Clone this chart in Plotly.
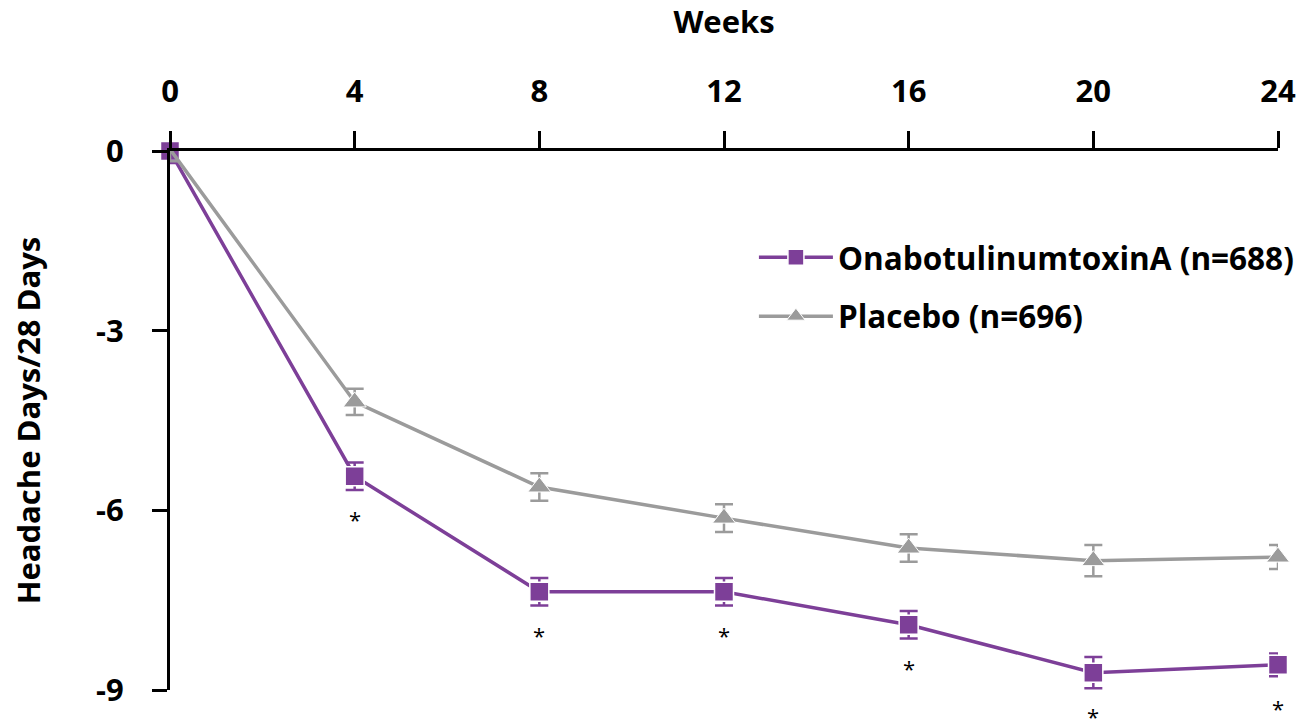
import plotly.graph_objects as go

weeks = [0, 4, 8, 12, 16, 20, 24]
onabot = [0.0, -5.43, -7.36, -7.36, -7.91, -8.71, -8.58]
onabot_err = [0.2, 0.23, 0.23, 0.23, 0.23, 0.26, 0.19]
placebo = [0.03, -4.19, -5.61, -6.13, -6.63, -6.84, -6.78]
placebo_err = [0.2, 0.22, 0.23, 0.23, 0.23, 0.26, 0.2]
sig_weeks = [4, 8, 12, 16, 20, 24]
y_ticks = [0, -3, -6, -9]
x_ticks = [0, 4, 8, 12, 16, 20, 24]

PURPLE = "#7D3F98"
GRAY = "#9B9B9B"
FONT = "Open Sans"
FS = 31

fig = go.Figure()
fig.add_trace(go.Scatter(
    x=weeks, y=onabot, name="OnabotulinumtoxinA (n=688)", mode="lines+markers",
    legendgroup="a",
    line=dict(color=PURPLE, width=3.5),
    marker=dict(symbol="square", size=19, color=PURPLE, line=dict(color="white", width=1.5)),
    error_y=dict(type="data", array=onabot_err, color=PURPLE, thickness=2.5, width=9),
    cliponaxis=False,
))
fig.add_trace(go.Scatter(
    x=weeks, y=placebo, name="Placebo (n=696)", mode="lines+markers",
    legendgroup="b",
    line=dict(color=GRAY, width=3.5),
    marker=dict(symbol="triangle-up", size=20, color=GRAY, line=dict(color="white", width=1)),
    error_y=dict(type="data", array=placebo_err, color=GRAY, thickness=2.5, width=9),
    cliponaxis=False,
))

for w in sig_weeks:
    yv = onabot[weeks.index(w)]
    fig.add_annotation(x=w, y=yv, text="*", showarrow=False, yshift=-43,
                       font=dict(family=FONT, size=22, color="black"))

fig.update_layout(
    width=1299, height=724,
    margin=dict(l=170, r=21, t=151, b=34, autoexpand=False),
    plot_bgcolor="white", paper_bgcolor="white",
    font=dict(family=FONT, color="black"),
    showlegend=True,
    legend=dict(x=0.527, y=0.853, xanchor="left", yanchor="top",
                font=dict(family=FONT, size=31.5, color="black", weight="bold"),
                itemwidth=74, tracegroupgap=15, bgcolor="rgba(0,0,0,0)"),
    xaxis=dict(
        side="top", range=[0, 24], tickvals=x_ticks, ticktext=[str(t) for t in x_ticks],
        showline=True, linecolor="black", linewidth=3, ticks="outside", ticklen=17,
        tickwidth=3, tickcolor="black", showgrid=False, zeroline=False, automargin=False,
        ticklabelstandoff=17,
        tickfont=dict(family=FONT, size=FS, weight="bold"),
        title=dict(text="Weeks", font=dict(family=FONT, size=FS, weight="bold"), standoff=31),
    ),
    yaxis=dict(
        range=[-9, 0], tickvals=y_ticks, ticktext=[str(t) for t in y_ticks],
        showline=True, linecolor="black", linewidth=3, ticks="outside", ticklen=15,
        tickwidth=3, tickcolor="black", showgrid=False, zeroline=False, automargin=False,
        ticklabelstandoff=22,
        tickfont=dict(family=FONT, size=FS, weight="bold"),
        title=dict(text="Headache Days/28 Days", font=dict(family=FONT, size=FS, weight="bold"), standoff=47),
    ),
)

fig.write_html("out.html", config={"displayModeBar": False},
               post_script="document.body.style.margin='0';")
